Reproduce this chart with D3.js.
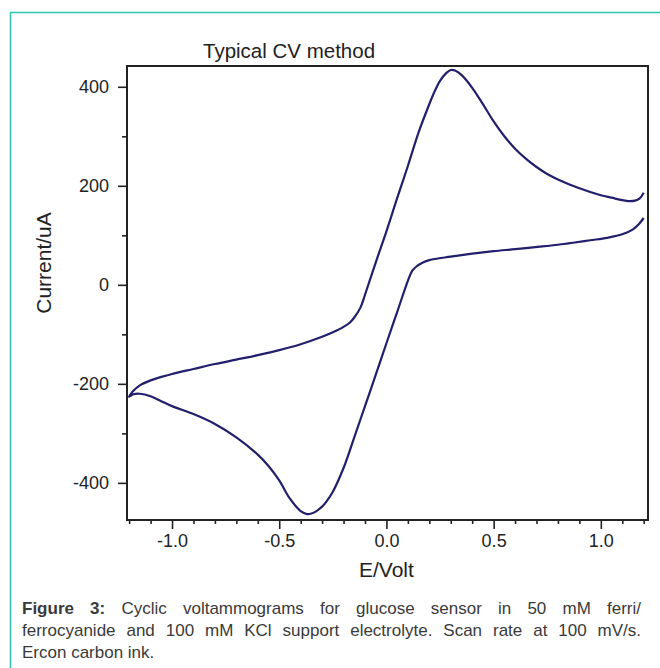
<!DOCTYPE html>
<html>
<head>
<meta charset="utf-8">
<script src="https://cdn.jsdelivr.net/npm/d3@7"></script>
<style>
  body { margin: 0; background: #fff; }
  #wrap { position: relative; width: 660px; height: 668px; overflow: hidden; }
  svg { position: absolute; left: 0; top: 0; }
  .cap {
    position: absolute; left: 22px; width: 619px;
    font-family: "Liberation Sans", Arial, sans-serif; font-size: 17px; color: #3a3a3a;
    white-space: nowrap;
  }
  .cap.just { text-align: justify; text-align-last: justify; }
</style>
</head>
<body>
<div id="wrap">
  <div id="chart"></div>
  <div class="cap just" style="top:599px"><b>Figure 3:</b> Cyclic voltammograms for glucose sensor in 50 mM ferri/</div>
  <div class="cap just" style="top:621px">ferrocyanide and 100 mM KCl support electrolyte. Scan rate at 100 mV/s.</div>
  <div class="cap" style="top:643px">Ercon carbon ink.</div>
</div>
<script>
// reverse scan, 1.2 V down to -1.2 V (lower branch)
const reverseE = [1.2, 1.18, 1.15, 1.1, 1.03, 0.95, 0.87, 0.8, 0.715, 0.6, 0.5, 0.4, 0.3, 0.2, 0.17, 0.14, 0.12, 0.1,
  0.05, 0, -0.05, -0.1, -0.15, -0.2, -0.25, -0.28, -0.3, -0.33, -0.35, -0.37, -0.4, -0.45, -0.5, -0.55, -0.6,
  -0.7, -0.8, -0.9, -1.0, -1.05, -1.1, -1.15, -1.18, -1.2];
const reverseI = [135, 124, 112, 102, 95, 90, 85, 81, 77, 72, 68, 63, 57, 50, 45, 37, 28, 8,
  -55, -118, -182, -245, -308, -370, -418, -438, -448, -458, -462, -463, -457, -432, -395, -366, -343,
  -308, -281, -261, -245, -235, -225, -220, -221, -226];

// forward scan, -1.2 V up to 1.2 V (upper branch)
const forwardE = [-1.2, -1.18, -1.15, -1.1, -1.05, -1.0, -0.9, -0.8, -0.7, -0.6, -0.5, -0.4, -0.3, -0.25, -0.2,
  -0.17, -0.15, -0.12, -0.1, -0.05, 0, 0.05, 0.1, 0.15, 0.2, 0.22, 0.25, 0.28, 0.3, 0.32, 0.35, 0.4, 0.45, 0.5,
  0.55, 0.6, 0.65, 0.7, 0.75, 0.8, 0.9, 1.0, 1.05, 1.1, 1.13, 1.16, 1.18, 1.2];
const forwardI = [-226, -214, -203, -193, -186, -180, -170, -160, -151, -142, -132, -120, -105, -96, -85,
  -76, -66, -45, -20, 45, 108, 175, 240, 308, 365, 386, 412, 428, 434, 433, 424, 398, 365, 330,
  300, 275, 255, 238, 224, 213, 195, 181, 176, 171, 169, 170, 174, 186];

const xMajor = [-1.0, -0.5, 0.0, 0.5, 1.0];
const xMinor = [-1.2, -1.1, -0.9, -0.8, -0.7, -0.6, -0.4, -0.3, -0.2, -0.1, 0.1, 0.2, 0.3, 0.4, 0.6, 0.7, 0.8, 0.9, 1.1, 1.2];
const yMajor = [-400, -200, 0, 200, 400];
const yMinor = [-300, -100, 100, 300];

const width = 660, height = 668;
const margin = { top: 66, right: 12, bottom: 148, left: 127 };
const plotW = width - margin.left - margin.right;
const plotH = height - margin.top - margin.bottom;
const font = '"Liberation Sans", Arial, sans-serif';

const svg = d3.select('#chart').append('svg')
  .attr('width', width)
  .attr('height', height);

// teal outline of the figure box
svg.append('rect')
  .attr('x', 10.5).attr('y', 12.5)
  .attr('width', 700).attr('height', 700)
  .attr('fill', 'none')
  .attr('stroke', '#2ec4ad')
  .attr('stroke-width', 1.5);

const g = svg.append('g')
  .attr('transform', `translate(${margin.left}, ${margin.top})`);

const x = d3.scaleLinear([-1.21, 1.22], [0, plotW]);
const y = d3.scaleLinear([-475, 442], [plotH, 0]);

// axes: majors carry labels, minors are short stubs
const styleAxis = sel => {
  sel.select('.domain').remove();
  sel.selectAll('line').attr('stroke', '#222').attr('stroke-width', 1.6);
  sel.selectAll('text').attr('fill', '#222').style('font-family', font).style('font-size', '18px');
};

g.append('g')
  .attr('transform', `translate(0, ${plotH})`)
  .call(d3.axisBottom(x).tickValues(xMajor).tickFormat(d3.format('.1f')).tickSize(9).tickPadding(5))
  .call(styleAxis);
g.append('g')
  .attr('transform', `translate(0, ${plotH})`)
  .call(d3.axisBottom(x).tickValues(xMinor).tickFormat('').tickSize(4))
  .call(styleAxis);
g.append('g')
  .call(d3.axisLeft(y).tickValues(yMajor).tickFormat(d3.format('d')).tickSize(9).tickPadding(9))
  .call(styleAxis);
g.append('g')
  .call(d3.axisLeft(y).tickValues(yMinor).tickFormat('').tickSize(5))
  .call(styleAxis);

// d3.format uses a unicode minus; the plot uses a plain hyphen
g.selectAll('.tick text').text(function () { return d3.select(this).text().replace('\u2212', '-'); });

// frame
g.append('rect')
  .attr('width', plotW).attr('height', plotH)
  .attr('fill', 'none')
  .attr('stroke', '#222')
  .attr('stroke-width', 2);

// voltammogram: reverse branch then forward branch, one continuous trace
const trace = reverseE.map((e, i) => [e, reverseI[i]])
  .concat(forwardE.slice(1).map((e, i) => [e, forwardI[i + 1]]));

const line = d3.line()
  .x(d => x(d[0]))
  .y(d => y(d[1]))
  .curve(d3.curveCatmullRom.alpha(0.5));

g.append('path')
  .datum(trace)
  .attr('d', line)
  .attr('fill', 'none')
  .attr('stroke', '#221f6c')
  .attr('stroke-width', 2.2)
  .attr('stroke-linejoin', 'round');

// titles
svg.append('text')
  .attr('x', 203).attr('y', 58)
  .attr('fill', '#222')
  .style('font-family', font).style('font-size', '20.5px')
  .text('Typical CV method');

svg.append('text')
  .attr('x', margin.left + x(0)).attr('y', 577)
  .attr('text-anchor', 'middle')
  .attr('fill', '#222')
  .style('font-family', font).style('font-size', '21px')
  .text('E/Volt');

svg.append('text')
  .attr('transform', `translate(51, 263) rotate(-90)`)
  .attr('text-anchor', 'middle')
  .attr('fill', '#222')
  .style('font-family', font).style('font-size', '21px')
  .text('Current/uA');
</script>
</body>
</html>
